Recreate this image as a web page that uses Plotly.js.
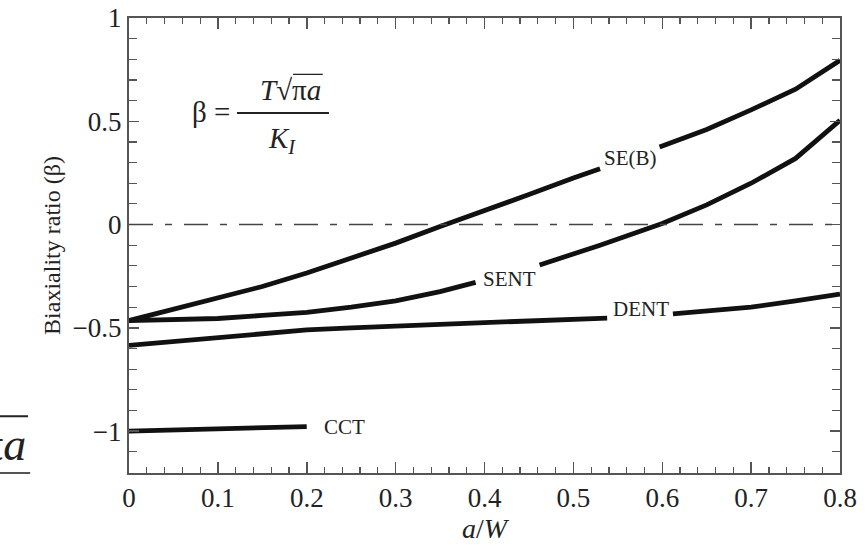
<!DOCTYPE html>
<html>
<head>
<meta charset="utf-8">
<script src="https://cdn.plot.ly/plotly-3.0.1.min.js"></script>
<style>html,body{margin:0;padding:0;background:#fff;}#chart{width:865px;height:556px;}</style>
</head>
<body>
<div id="chart"></div>
<script>
// ---- data ----
const seb_x  = [0, 0.05, 0.1, 0.15, 0.2, 0.25, 0.3, 0.35, 0.4, 0.45, 0.5, 0.53, null, 0.597, 0.65, 0.7, 0.75, 0.8];
const seb_y  = [-0.465, -0.41, -0.355, -0.30, -0.235, -0.165, -0.09, -0.01, 0.065, 0.145, 0.225, 0.27, null, 0.375, 0.46, 0.555, 0.655, 0.795];

const sent_x = [0, 0.05, 0.1, 0.15, 0.2, 0.25, 0.3, 0.35, 0.39, null, 0.462, 0.5, 0.53, 0.6, 0.65, 0.7, 0.75, 0.8];
const sent_y = [-0.465, -0.462, -0.455, -0.44, -0.425, -0.40, -0.37, -0.325, -0.28, null, -0.196, -0.145, -0.10, 0.005, 0.095, 0.20, 0.32, 0.505];

const dent_x = [0, 0.05, 0.1, 0.15, 0.2, 0.25, 0.3, 0.35, 0.4, 0.45, 0.5, 0.538, null, 0.612, 0.65, 0.7, 0.75, 0.8];
const dent_y = [-0.585, -0.565, -0.545, -0.525, -0.51, -0.50, -0.49, -0.482, -0.475, -0.467, -0.46, -0.453, null, -0.433, -0.42, -0.40, -0.37, -0.337];

const cct_x  = [0, 0.05, 0.1, 0.15, 0.2];
const cct_y  = [-1.0, -0.995, -0.99, -0.985, -0.978];

const curve_labels = ["SE(B)", "SENT", "DENT", "CCT"];
const label_x = [0.564, 0.428, 0.576, 0.217];
const label_y = [0.32, -0.262, -0.41, -0.98];

const x_ticks = [0, 0.1, 0.2, 0.3, 0.4, 0.5, 0.6, 0.7, 0.8];
const x_tick_text = ["0", "0.1", "0.2", "0.3", "0.4", "0.5", "0.6", "0.7", "0.8"];
const y_ticks = [-1, -0.5, 0, 0.5, 1];
const y_tick_text = ["\u22121", "\u22120.5", "0", "0.5", "1"];

// ---- styling ----
const SERIF = "'Liberation Serif', 'DejaVu Serif', serif";
const lineStyle = {color: "#111", width: 4.8};

const traces = [
  {x: seb_x,  y: seb_y,  name: "SE(B)"},
  {x: sent_x, y: sent_y, name: "SENT"},
  {x: dent_x, y: dent_y, name: "DENT"},
  {x: cct_x,  y: cct_y,  name: "CCT"}
].map(t => Object.assign(t, {type: "scatter", mode: "lines", line: lineStyle, connectgaps: false, hoverinfo: "skip"}));

const annotations = curve_labels.map((t, i) => ({
  x: label_x[i], y: label_y[i], xref: "x", yref: "y", text: t, showarrow: false,
  xanchor: i === 3 ? "left" : "center", yanchor: "middle",
  font: {family: SERIF, size: 21, color: "#222"}
}));

// formula  beta = T sqrt(pi a) / K_I
annotations.push(
  {x: 0.116, y: 0.545, xref: "x", yref: "y", text: "\u03b2 =", showarrow: false, xanchor: "right", yanchor: "middle",
   font: {family: SERIF, size: 29, color: "#222"}},
  {x: 0.182, y: 0.652, xref: "x", yref: "y", text: "<i>T</i>\u221a\u03c0<i>a</i>", showarrow: false, xanchor: "center", yanchor: "middle",
   font: {family: SERIF, size: 29, color: "#222"}},
  {x: 0.172, y: 0.41, xref: "x", yref: "y", text: "<i>K<sub>I</sub></i>", showarrow: false, xanchor: "center", yanchor: "middle",
   font: {family: SERIF, size: 29, color: "#222"}},
  // page fragment at the left edge
  {x: -0.142, y: 0.062, xref: "paper", yref: "paper", text: "\u03c0<i>a</i>", showarrow: false, xanchor: "right", yanchor: "middle",
   font: {family: SERIF, size: 46, color: "#222"}}
);

const shapes = [
  // dash-dot zero line
  {type: "line", xref: "paper", yref: "y", x0: 0, x1: 1, y0: 0, y1: 0,
   line: {color: "#444", width: 1.5, dash: "24px,12px,7px,12px"}},
  // fraction bar
  {type: "line", xref: "x", yref: "y", x0: 0.1215, x1: 0.225, y0: 0.54, y1: 0.54, line: {color: "#222", width: 2}},
  // radical overline
  {type: "line", xref: "x", yref: "y", x0: 0.1845, x1: 0.218, y0: 0.727, y1: 0.727, line: {color: "#222", width: 1.3}},
  // page fragment lines
  {type: "line", xref: "paper", yref: "paper", x0: -0.2, x1: -0.142, y0: 0.125, y1: 0.125, line: {color: "#222", width: 2}},
  {type: "line", xref: "paper", yref: "paper", x0: -0.2, x1: -0.139, y0: 0.0, y1: 0.0, line: {color: "#555", width: 2}}
];

const axisCommon = {
  showline: true, linecolor: "#555", linewidth: 2, mirror: "allticks",
  ticks: "inside", tickcolor: "#555", tickwidth: 1.5, showgrid: false, zeroline: false,
  tickfont: {family: SERIF, size: 27, color: "#222"}
};

const layout = {
  width: 865, height: 556,
  margin: {l: 129, r: 25, t: 18, b: 83},
  paper_bgcolor: "#fff", plot_bgcolor: "#fff",
  showlegend: false,
  font: {family: SERIF},
  xaxis: Object.assign({}, axisCommon, {
    range: [0, 0.8], tickvals: x_ticks, ticktext: x_tick_text, ticklen: 11,
    minor: {dtick: 0.02, ticks: "inside", ticklen: 6, tickcolor: "#555", tickwidth: 1.2},
    title: {text: "<i>a</i>/<i>W</i>", font: {family: SERIF, size: 28, color: "#222"}, standoff: 6}
  }),
  yaxis: Object.assign({}, axisCommon, {
    range: [-1.203, 1], tickvals: y_ticks, ticktext: y_tick_text, ticklen: 10,
    minor: {dtick: 0.1, tick0: 0, ticks: "inside", ticklen: 8, tickcolor: "#555", tickwidth: 1.2},
    title: {text: "Biaxiality ratio (\u03b2)", font: {family: SERIF, size: 24, color: "#222"}, standoff: 5}
  }),
  annotations: annotations,
  shapes: shapes
};

Plotly.newPlot("chart", traces, layout, {displayModeBar: false, staticPlot: true});
</script>
</body>
</html>
